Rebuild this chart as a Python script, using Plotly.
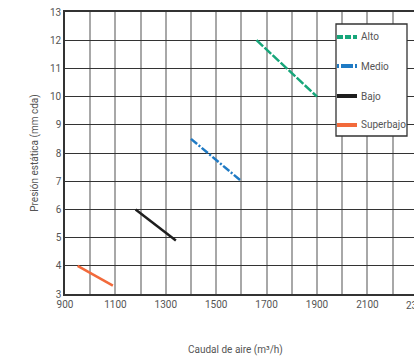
import plotly.graph_objects as go

series_names = ["Alto", "Medio", "Bajo", "Superbajo"]
caudal = {
    "Alto": [1660, 1900],
    "Medio": [1400, 1600],
    "Bajo": [1180, 1340],
    "Superbajo": [950, 1090],
}
presion = {
    "Alto": [12.0, 10.0],
    "Medio": [8.5, 7.0],
    "Bajo": [6.0, 4.9],
    "Superbajo": [4.0, 3.3],
}
x_ticks = [900, 1100, 1300, 1500, 1700, 1900, 2100, 2300]
y_ticks = list(range(3, 14))

colors = {"Alto": "#17a67a", "Medio": "#1f7ac4", "Bajo": "#1e1e1e", "Superbajo": "#f26a3b"}
dashes = {"Alto": "9px,2px", "Medio": "8px,2px,2px,2px", "Bajo": "solid", "Superbajo": "solid"}

FONT = "Roboto, Liberation Sans, sans-serif"
TXT = "#555555"

W, H = 414, 358
ML, MR, MT, MB = 65, 0, 12, 64
PW, PH = W - ML - MR, H - MT - MB
X0, X1 = 900, 2285


def px(xp):
    return (xp - ML) / PW


def py(yp):
    return (H - MB - yp) / PH


def f(size):
    return dict(family=FONT, size=size, color=TXT)


fig = go.Figure()
for name in series_names:
    fig.add_trace(go.Scatter(
        x=caudal[name], y=presion[name], mode="lines", name=name,
        line=dict(color=colors[name], width=2.5, dash=dashes[name]),
        showlegend=False,
    ))

shapes = [
    dict(type="rect", xref="paper", yref="paper", x0=px(336), x1=px(407), y0=py(136), y1=py(24),
         fillcolor="white", line=dict(color="#333333", width=1.3), layer="above"),
]
annotations = [
    dict(text=str(x_ticks[-1]), x=(x_ticks[-1] - X0) / (X1 - X0), y=0, xref="paper", yref="paper",
         yanchor="top", xanchor="center", yshift=-4, showarrow=False, font=f(10)),
    dict(text="Caudal de aire (m³/h)", x=px(235), y=py(350), xref="paper", yref="paper",
         xanchor="center", yanchor="middle", showarrow=False, font=f(10)),
]
legend_y = [37, 66, 96, 125]
for name, ly in zip(series_names, legend_y):
    shapes.append(dict(type="line", xref="paper", yref="paper", x0=px(337), x1=px(357),
                       y0=py(ly), y1=py(ly), layer="above",
                       line=dict(color=colors[name], width=4,
                                 dash=("6px,2px" if name == "Alto" else
                                       "2px,2px,12px,2px" if name == "Medio" else "solid"))))
    annotations.append(dict(text=name, x=px(359), y=py(ly), xref="paper", yref="paper",
                            xanchor="left", yanchor="middle", showarrow=False, font=f(10)))

fig.update_layout(
    width=W, height=H,
    margin=dict(l=ML, r=MR, t=MT, b=MB),
    paper_bgcolor="white", plot_bgcolor="white",
    font=f(10),
    showlegend=False,
    xaxis=dict(
        range=[X0, X1], tickvals=x_ticks, ticktext=[str(v) for v in x_ticks],
        showgrid=True, gridcolor="#a8a8a8", gridwidth=1.5,
        minor=dict(dtick=100, tick0=900, showgrid=True, gridcolor="#a8a8a8", gridwidth=1.5),
        showline=True, linecolor="#333333", linewidth=1.5, mirror=True,
        ticks="", zeroline=False, fixedrange=True, automargin=False,
        tickfont=f(10),
    ),
    yaxis=dict(
        range=[3, 13], tickvals=y_ticks,
        showgrid=True, gridcolor="#333333", gridwidth=1.3,
        showline=True, linecolor="#333333", linewidth=1.5,
        ticks="", zeroline=False, automargin=False, fixedrange=True,
        title=dict(text="Presión estática (mm cda)", font=f(10), standoff=10),
        tickfont=f(10),
    ),
    shapes=shapes,
    annotations=annotations,
)

fig.write_html(
    "out.html",
    config={"displayModeBar": False},
    post_script="document.body.style.margin='0';document.body.style.overflow='hidden';",
)
